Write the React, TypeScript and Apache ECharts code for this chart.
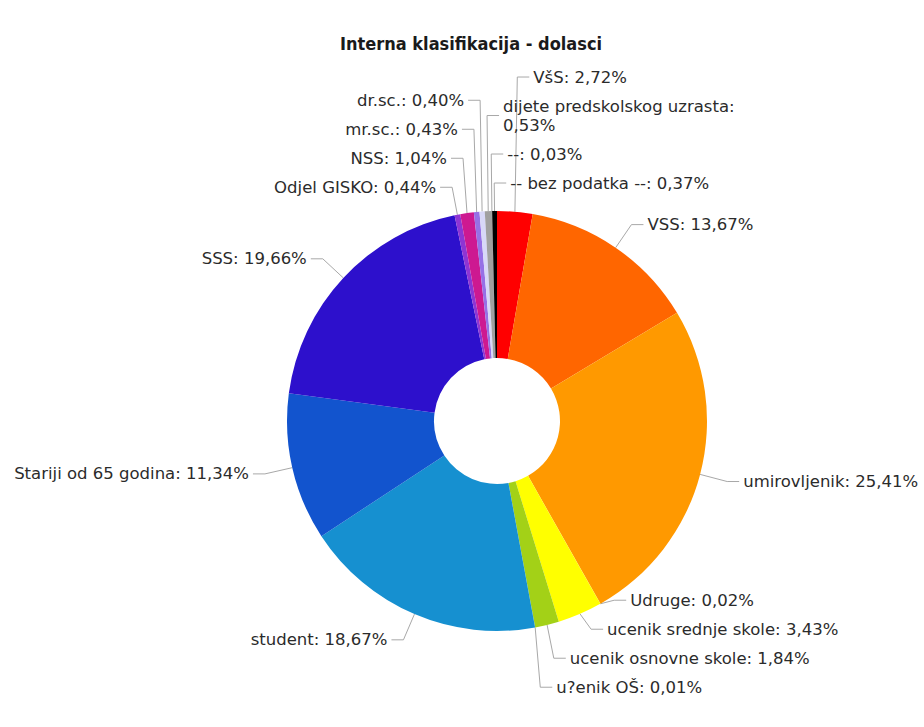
import React, { useEffect, useRef } from 'react';
import * as echarts from 'echarts';

// ---------- data ----------
const TITLE = 'Interna klasifikacija - dolasci';
const CATEGORIES = [
  'VšS',
  'VSS',
  'umirovljenik',
  'Udruge',
  'ucenik srednje skole',
  'ucenik osnovne skole',
  'u?enik OŠ',
  'student',
  'Stariji od 65 godina',
  'SSS',
  'Odjel GISKO',
  'NSS',
  'mr.sc.',
  'dr.sc.',
  'dijete predskolskog uzrasta',
  '--',
  '-- bez podatka --',
];
const SHARES = [2.72, 13.67, 25.41, 0.02, 3.43, 1.84, 0.01, 18.67, 11.34, 19.66, 0.44, 1.04, 0.43, 0.4, 0.53, 0.03, 0.37];

// ---------- styles ----------
const COLORS = [
  '#ff0000', '#ff6600', '#ff9900', '#ffcc00', '#ffff00', '#a3d117', '#33cc33',
  '#1690d0', '#1254ce', '#2d10cc', '#8e35d4', '#cd1991', '#9670e6', '#d8d8f8',
  '#a0a0a0', '#666666', '#000000',
];
const FONT_FAMILY = '"DejaVu Sans", Verdana, sans-serif';
const FONT_SIZE = 16.5;
const LINE_H = 19;
const LABEL_PAD = 5;
const MAX_LABEL_W = 250;
const TEXT_COLOR = '#2b2b2b';
const LINE_COLOR = '#a8a8a8';

// ---------- layout ----------
const CX = 497;
const CY = 421;
const R_IN = 63;
const R_OUT = 210;
const DIST = 28;
const CONNECTOR = 12;
const TEXT_GAP = 4;
const SPLIT_DEG = -3; // slices from just left of 12 o'clock round to 6 o'clock label on the right

type Item = {
  i: number; mid: number; text: string; h: number; right: boolean;
  xNat: number; yNat: number; ex: number; ey: number; y: number;
};

function formatLabel(i: number) {
  return `${CATEGORIES[i]}: ${SHARES[i].toFixed(2).replace('.', ',')}%`;
}

function wrapLabel(text: string, ctx: CanvasRenderingContext2D) {
  if (ctx.measureText(text).width <= MAX_LABEL_W) return text;
  const words = text.split(' ');
  const lines: string[] = [];
  let cur = '';
  for (const w of words) {
    const t = cur ? cur + ' ' + w : w;
    if (cur && ctx.measureText(t).width > MAX_LABEL_W) {
      lines.push(cur);
      cur = w;
    } else cur = t;
  }
  lines.push(cur);
  return lines.join('\n');
}

function computeLayout(): Item[] {
  const canvas = document.createElement('canvas');
  const ctx = canvas.getContext('2d') as CanvasRenderingContext2D;
  ctx.font = `${FONT_SIZE}px ${FONT_FAMILY}`;
  const total = SHARES.reduce((a, b) => a + b, 0);
  const R = R_OUT + DIST;
  let acc = 0;
  const items: Item[] = SHARES.map((v, i) => {
    const mid = ((acc + v / 2) / total) * 360;
    acc += v;
    const rad = (mid * Math.PI) / 180;
    const text = wrapLabel(formatLabel(i), ctx);
    const lines = text.split('\n').length;
    let rel = mid;
    if (rel >= 360 + SPLIT_DEG) rel -= 360;
    return {
      i, mid, text,
      h: lines * LINE_H + 2 * LABEL_PAD,
      right: rel < 180,
      xNat: CX + R * Math.sin(rad),
      yNat: CY - R * Math.cos(rad),
      ex: CX + R_OUT * Math.sin(rad),
      ey: CY - R_OUT * Math.cos(rad),
      y: 0,
    };
  });

  for (const right of [true, false]) {
    const side = items.filter((it) => it.right === right).sort((a, b) => a.yNat - b.yNat);
    const ordered: Item[] = [];
    let k = 0;
    while (k < side.length) {
      const grp = [side[k]];
      let j = k + 1;
      while (j < side.length && side[j].yNat - side[k].yNat < 3) {
        grp.push(side[j]);
        j++;
      }
      grp.sort((a, b) => (right ? a.mid - b.mid : b.mid - a.mid));
      ordered.push(...grp);
      k = j;
    }
    const upper = ordered.filter((it) => it.yNat < CY);
    const lower = ordered.filter((it) => it.yNat >= CY);
    let top = Infinity;
    for (let q = upper.length - 1; q >= 0; q--) {
      const it = upper[q];
      it.y = Math.min(it.yNat, top - it.h / 2);
      top = it.y - it.h / 2;
    }
    let groups = lower.map((it) => ({ items: [it], size: it.h, pos: it.yNat - it.h / 2 }));
    let merged = true;
    while (merged) {
      merged = false;
      for (let g = 1; g < groups.length; g++) {
        const a = groups[g - 1];
        const b = groups[g];
        if (b.pos < a.pos + a.size) {
          const its = a.items.concat(b.items);
          const target = its.reduce((s, it) => s + it.yNat, 0) / its.length;
          const size = a.size + b.size;
          groups.splice(g - 1, 2, { items: its, size, pos: target - size / 2 });
          merged = true;
          break;
        }
      }
    }
    for (const g of groups) {
      let p = g.pos;
      for (const it of g.items) {
        it.y = p + it.h / 2;
        p += it.h;
      }
    }
  }
  return items;
}

export default function App() {
  const ref = useRef<HTMLDivElement>(null);
  useEffect(() => {
    if (!ref.current) return;
    const chart = echarts.init(ref.current, undefined, { renderer: 'svg' });
    const layout = computeLayout();
    chart.setOption({
      animation: false,
      backgroundColor: '#ffffff',
      title: {
        text: TITLE,
        left: 466,
        top: 29,
        textAlign: 'center',
        textStyle: {
          fontFamily: '"Liberation Sans Narrow", "DejaVu Sans Condensed", "Arial Narrow", sans-serif',
          fontWeight: 'bold',
          fontSize: 18,
          color: '#1a1a1a',
        },
      },
      series: [
        {
          type: 'pie',
          center: [CX, CY],
          radius: [R_IN, R_OUT],
          startAngle: 90,
          clockwise: true,
          avoidLabelOverlap: false,
          minShowLabelAngle: 0,
          emphasis: { scale: false },
          itemStyle: { borderWidth: 0 },
          data: CATEGORIES.map((name, i) => ({ name, value: SHARES[i], itemStyle: { color: COLORS[i] } })),
          label: {
            show: true,
            position: 'outside',
            alignTo: 'none',
            formatter: (p: any) => layout[p.dataIndex].text,
            fontFamily: FONT_FAMILY,
            fontSize: FONT_SIZE,
            lineHeight: LINE_H,
            color: TEXT_COLOR,
          },
          labelLine: {
            show: true,
            length: DIST,
            length2: CONNECTOR,
            smooth: false,
            lineStyle: { color: LINE_COLOR, width: 1 },
          },
          labelLayout: (p: any) => {
            const it = layout[p.dataIndex];
            const dir = it.right ? 1 : -1;
            return {
              x: it.xNat + dir * (CONNECTOR + TEXT_GAP),
              y: it.y,
              align: it.right ? 'left' : 'right',
              verticalAlign: 'middle',
              labelLinePoints: [
                [it.ex, it.ey],
                [it.xNat, it.y],
                [it.xNat + dir * CONNECTOR, it.y],
              ],
            };
          },
        },
      ],
    });
    return () => chart.dispose();
  }, []);
  return <div ref={ref} style={{ position: 'absolute', left: 0, top: 0, width: 924, height: 727 }} />;
}
